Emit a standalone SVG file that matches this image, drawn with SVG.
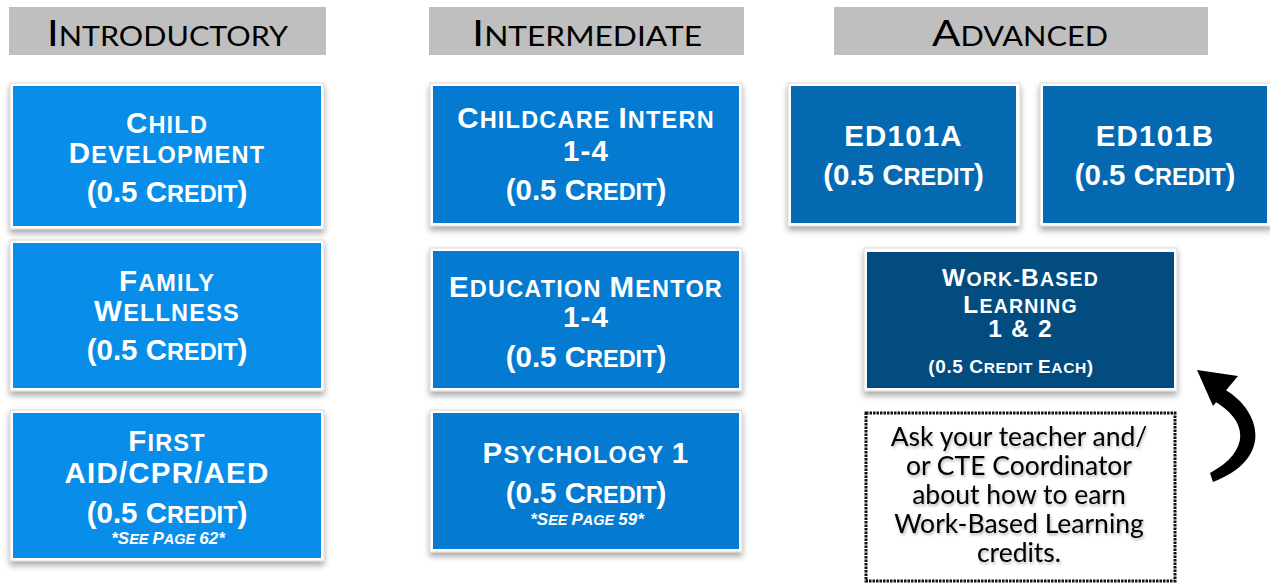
<svg xmlns="http://www.w3.org/2000/svg" width="1270" height="584" viewBox="0 0 1270 584">
<defs>
<filter id="sh" x="-10%" y="-10%" width="120%" height="130%">
<feDropShadow dx="0" dy="4" stdDeviation="3" flood-color="#000" flood-opacity="0.35"/>
</filter>
<filter id="tsh" x="-10%" y="-20%" width="120%" height="150%">
<feDropShadow dx="1" dy="2" stdDeviation="1.5" flood-color="#000" flood-opacity="0.3"/>
</filter>
</defs>
<style>
.hdr{fill:#bfbfbf}
.ht{font-family:Lato,"Liberation Sans",sans-serif;font-weight:400;fill:#000;text-anchor:middle}
.hb{font-size:37px}
.hs{font-size:27px}
.frame{fill:#fff;stroke:#cfcfcf;stroke-width:0.8;filter:url(#sh)}
.c1{fill:#088ee9}
.c2{fill:#047bd1}
.c3{fill:#0469b1}
.c4{fill:#034c80}
.t{font-family:"Liberation Sans",Arial,sans-serif;font-weight:bold;fill:#fff;text-anchor:middle}
.ti{letter-spacing:1.2px}
.B{font-size:29.5px}
.S{font-size:23.5px}
.nb{font-size:17px;font-style:italic}
.ns{font-size:14.5px;font-style:italic}
.wB{font-size:24.5px}
.wS{font-size:19.5px}
.eB{font-size:19px}
.eS{font-size:15.5px}
.note{font-family:Lato,"Open Sans",sans-serif;font-size:26.5px;fill:#000;text-anchor:middle;filter:url(#tsh)}
</style>

<g id="header-introductory">
<rect class="hdr" x="9" y="7" width="317" height="48"/>
<text class="ht" x="167.5" y="45.5" textLength="241" lengthAdjust="spacingAndGlyphs"><tspan class="hb">I</tspan><tspan class="hs">NTRODUCTORY</tspan></text>
</g>
<g id="header-intermediate">
<rect class="hdr" x="429" y="7" width="315" height="48"/>
<text class="ht" x="587" y="45.5" textLength="230" lengthAdjust="spacingAndGlyphs"><tspan class="hb">I</tspan><tspan class="hs">NTERMEDIATE</tspan></text>
</g>
<g id="header-advanced">
<rect class="hdr" x="834" y="7" width="374" height="48"/>
<text class="ht" x="1020" y="45.5" textLength="176" lengthAdjust="spacingAndGlyphs"><tspan class="hb">A</tspan><tspan class="hs">DVANCED</tspan></text>
</g>

<g id="child-development">
<rect class="frame" x="10" y="83" width="314" height="146"/>
<rect class="c1" x="13" y="86" width="308" height="140"/>
<text class="t ti" x="167" y="133"><tspan class="B">C</tspan><tspan class="S">HILD</tspan></text>
<text class="t ti" x="167" y="163"><tspan class="B">D</tspan><tspan class="S">EVELOPMENT</tspan></text>
<text class="t" x="167" y="202"><tspan class="B">(0.5 C</tspan><tspan class="S">REDIT</tspan><tspan class="B">)</tspan></text>
</g>

<g id="family-wellness">
<rect class="frame" x="10" y="240" width="314" height="151"/>
<rect class="c1" x="13" y="243" width="308" height="145"/>
<text class="t ti" x="167" y="291"><tspan class="B">F</tspan><tspan class="S">AMILY</tspan></text>
<text class="t ti" x="167" y="321"><tspan class="B">W</tspan><tspan class="S">ELLNESS</tspan></text>
<text class="t" x="167" y="360"><tspan class="B">(0.5 C</tspan><tspan class="S">REDIT</tspan><tspan class="B">)</tspan></text>
</g>

<g id="first-aid">
<rect class="frame" x="10" y="410" width="314" height="151"/>
<rect class="c1" x="13" y="413" width="308" height="145"/>
<text class="t ti" x="167" y="451"><tspan class="B">F</tspan><tspan class="S">IRST</tspan></text>
<text class="t ti" x="167" y="483"><tspan class="B">AID/CPR/AED</tspan></text>
<text class="t" x="167" y="523"><tspan class="B">(0.5 C</tspan><tspan class="S">REDIT</tspan><tspan class="B">)</tspan></text>
<text class="t" x="168" y="544"><tspan class="nb">*S</tspan><tspan class="ns">EE </tspan><tspan class="nb">P</tspan><tspan class="ns">AGE </tspan><tspan class="nb">62*</tspan></text>
</g>

<g id="childcare-intern">
<rect class="frame" x="430" y="83" width="312" height="143"/>
<rect class="c2" x="433" y="86" width="306" height="137"/>
<text class="t ti" x="586" y="128"><tspan class="B">C</tspan><tspan class="S">HILDCARE </tspan><tspan class="B">I</tspan><tspan class="S">NTERN</tspan></text>
<text class="t ti" x="586" y="161"><tspan class="B">1-4</tspan></text>
<text class="t" x="586" y="200"><tspan class="B">(0.5 C</tspan><tspan class="S">REDIT</tspan><tspan class="B">)</tspan></text>
</g>

<g id="education-mentor">
<rect class="frame" x="430" y="248" width="312" height="143"/>
<rect class="c2" x="433" y="251" width="306" height="137"/>
<text class="t ti" x="586" y="297"><tspan class="B">E</tspan><tspan class="S">DUCATION </tspan><tspan class="B">M</tspan><tspan class="S">ENTOR</tspan></text>
<text class="t ti" x="586" y="327"><tspan class="B">1-4</tspan></text>
<text class="t" x="586" y="367"><tspan class="B">(0.5 C</tspan><tspan class="S">REDIT</tspan><tspan class="B">)</tspan></text>
</g>

<g id="psychology-1">
<rect class="frame" x="430" y="410" width="312" height="142"/>
<rect class="c2" x="433" y="413" width="306" height="136"/>
<text class="t ti" x="586" y="463"><tspan class="B">P</tspan><tspan class="S">SYCHOLOGY </tspan><tspan class="B">1</tspan></text>
<text class="t" x="586" y="503"><tspan class="B">(0.5 C</tspan><tspan class="S">REDIT</tspan><tspan class="B">)</tspan></text>
<text class="t" x="587" y="525"><tspan class="nb">*S</tspan><tspan class="ns">EE </tspan><tspan class="nb">P</tspan><tspan class="ns">AGE </tspan><tspan class="nb">59*</tspan></text>
</g>

<g id="ed101a">
<rect class="frame" x="788" y="83" width="232" height="143"/>
<rect class="c3" x="791" y="86" width="225" height="137"/>
<text class="t ti" x="903.5" y="146"><tspan class="B">ED101A</tspan></text>
<text class="t" x="903.5" y="185"><tspan class="B">(0.5 C</tspan><tspan class="S">REDIT</tspan><tspan class="B">)</tspan></text>
</g>

<g id="ed101b">
<rect class="frame" x="1040" y="83" width="232" height="143"/>
<rect class="c3" x="1043" y="86" width="224" height="137"/>
<text class="t ti" x="1155" y="146"><tspan class="B">ED101B</tspan></text>
<text class="t" x="1155" y="185"><tspan class="B">(0.5 C</tspan><tspan class="S">REDIT</tspan><tspan class="B">)</tspan></text>
</g>

<g id="work-based-learning">
<rect class="frame" x="864" y="248" width="313" height="143"/>
<rect class="c4" x="867" y="252" width="307" height="136"/>
<text class="t ti" x="1020.5" y="286"><tspan class="wB">W</tspan><tspan class="wS">ORK-</tspan><tspan class="wB">B</tspan><tspan class="wS">ASED</tspan></text>
<text class="t ti" x="1020.5" y="313"><tspan class="wB">L</tspan><tspan class="wS">EARNING</tspan></text>
<text class="t ti" x="1020.5" y="337"><tspan class="wB">1 &amp; 2</tspan></text>
<text class="t" x="1011" y="373" style="letter-spacing:0.6px"><tspan class="eB">(0.5 C</tspan><tspan class="eS">REDIT </tspan><tspan class="eB">E</tspan><tspan class="eS">ACH</tspan><tspan class="eB">)</tspan></text>
</g>

<g id="note">
<rect x="866" y="413" width="309" height="168" fill="#fff" stroke="#111" stroke-width="3" stroke-dasharray="2.5 1"/>
<text class="note" x="1019" y="446">Ask your teacher and/</text>
<text class="note" x="1019" y="475">or CTE Coordinator</text>
<text class="note" x="1019" y="504">about how to earn</text>
<text class="note" x="1019" y="533">Work-Based Learning</text>
<text class="note" x="1019" y="562">credits.</text>
</g>

<g id="connectors">
<path d="M1222,388 C1260,408 1276,458 1213,482 L1210,473 C1250,452 1250,420 1212,400 Z" fill="#000"/>
<polygon points="1197,370 1238,376 1213,406" fill="#000"/>
</g>
</svg>
